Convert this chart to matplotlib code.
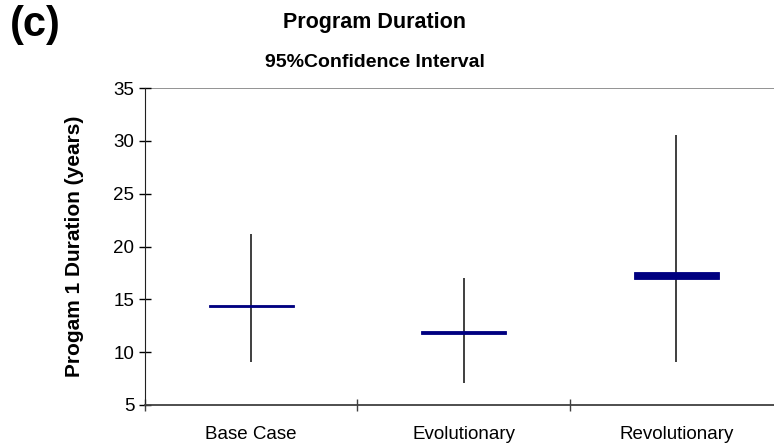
import matplotlib
matplotlib.use("Agg")
import matplotlib.pyplot as plt

plt.rcParams['font.family'] = ['Liberation Sans', 'DejaVu Sans']

# data
categories = ["Base Case", "Evolutionary", "Revolutionary"]
ci_low = [9.1, 7.1, 9.1]
ci_high = [21.2, 17.0, 30.6]
mean_low = [14.25, 11.75, 16.95]
mean_high = [14.5, 12.0, 17.6]

fig = plt.figure(figsize=(7.74, 4.45), dpi=100)
ax = fig.add_axes([0.187, 0.09, 0.824, 0.712])

x = list(range(len(categories)))

# confidence interval whiskers
ax.vlines(x, ci_low, ci_high, color="#303030", linewidth=1.3, zorder=2)

# mean bars
heights = [h - l for l, h in zip(mean_low, mean_high)]
ax.bar(x, heights, bottom=mean_low, width=0.4, color="#000080",
       edgecolor="#000080", linewidth=0.6, zorder=3)

ax.set_xlim(-0.5, 2.5)
ax.set_ylim(5, 35)
ax.set_yticks([5, 10, 15, 20, 25, 30, 35])

# category boundaries as major ticks, labels as minor
ax.set_xticks([-0.5, 0.5, 1.5, 2.5])
ax.set_xticklabels([])
ax.set_xticks(x, minor=True)
ax.set_xticklabels(categories, minor=True, fontsize=13.5)
ax.tick_params(axis="x", which="minor", length=0, pad=15)
ax.tick_params(axis="x", which="major", direction="inout", length=9,
               width=1, color="#404040")
ax.tick_params(axis="y", direction="inout", length=9, width=1,
               labelsize=13.5, pad=3)

ax.axhline(35, color="#808080", linewidth=1.2, zorder=1)
ax.spines["top"].set_visible(False)
ax.spines["right"].set_visible(False)
ax.spines["left"].set_color("#202020")
ax.spines["bottom"].set_color("#404040")
ax.spines["bottom"].set_linewidth(1.3)

ax.set_ylabel("Progam 1 Duration (years)", fontsize=15, fontweight="bold",
              labelpad=21)

fig.text(0.484, 0.95, "Program Duration", ha="center", va="center",
         fontsize=15.5, fontweight="bold")
fig.text(0.484, 0.86, "95%Confidence Interval", ha="center", va="center",
         fontsize=14, fontweight="bold")
fig.text(0.045, 0.943, "(c)", ha="center", va="center", fontsize=30,
         fontweight="bold")

fig.savefig("out.png", dpi=100)
